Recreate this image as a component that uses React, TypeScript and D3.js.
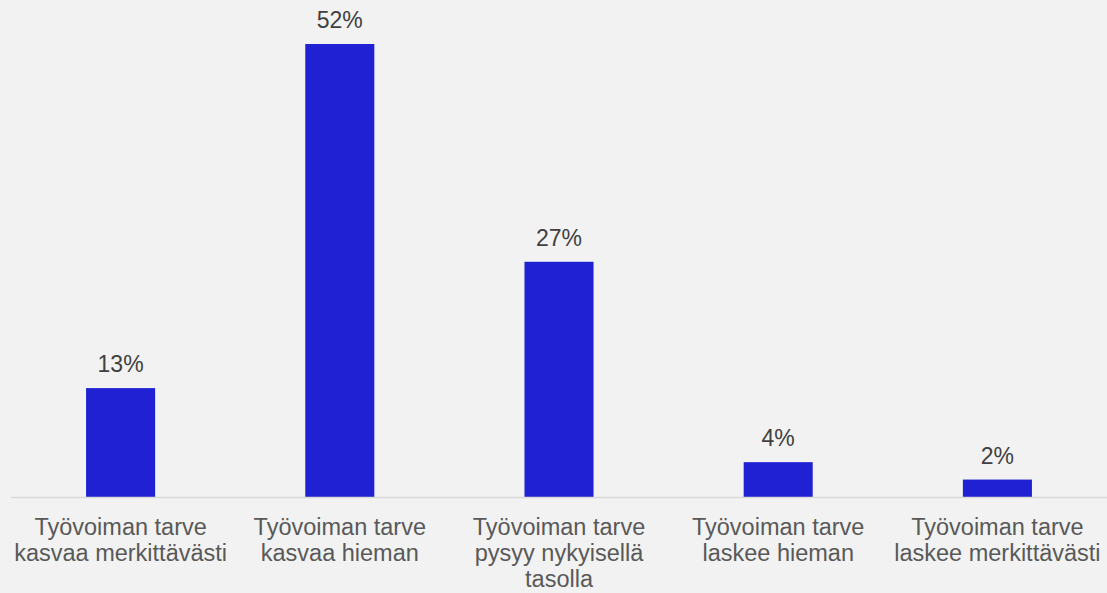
import { useEffect, useRef } from "react";
import * as d3 from "d3";

const categories = [
  "Työvoiman tarve kasvaa merkittävästi",
  "Työvoiman tarve kasvaa hieman",
  "Työvoiman tarve pysyy nykyisellä tasolla",
  "Työvoiman tarve laskee hieman",
  "Työvoiman tarve laskee merkittävästi",
];
const categoryLines = [
  ["Työvoiman tarve", "kasvaa merkittävästi"],
  ["Työvoiman tarve", "kasvaa hieman"],
  ["Työvoiman tarve", "pysyy nykyisellä", "tasolla"],
  ["Työvoiman tarve", "laskee hieman"],
  ["Työvoiman tarve", "laskee merkittävästi"],
];
const values = [12.5, 52, 27, 4, 2];
const valueLabels = ["13%", "52%", "27%", "4%", "2%"];

const W = 1107;
const H = 593;

export default function App() {
  const svgRef = useRef<SVGSVGElement | null>(null);

  useEffect(() => {
    if (!svgRef.current) return;
    const svg = d3.select(svgRef.current);
    svg.selectAll("*").remove();

    const margin = { left: 11, right: 0, top: 44, baseline: 497 };
    const font = "Arial, 'Liberation Sans', sans-serif";

    svg.append("rect").attr("width", W).attr("height", H).attr("fill", "#f2f2f2");

    const x = d3.scaleBand<string>()
      .domain(categories)
      .range([margin.left, W - margin.right])
      .paddingInner(0.685)
      .paddingOuter(0.3425);

    const y = d3.scaleLinear()
      .domain([0, d3.max(values) || 52])
      .range([margin.baseline, margin.top]);

    // bars
    svg.append("g")
      .selectAll("rect")
      .data(values)
      .enter()
      .append("rect")
      .attr("x", (_, i) => x(categories[i])!)
      .attr("y", d => y(d))
      .attr("width", x.bandwidth())
      .attr("height", d => y(0) - y(d))
      .attr("fill", "#1f21d2");

    // baseline
    svg.append("line")
      .attr("x1", margin.left)
      .attr("x2", W)
      .attr("y1", y(0) + 0.5)
      .attr("y2", y(0) + 0.5)
      .attr("stroke", "#d9d9d9")
      .attr("stroke-width", 1.5);

    // value labels
    svg.append("g")
      .selectAll("text")
      .data(values)
      .enter()
      .append("text")
      .attr("x", (_, i) => x(categories[i])! + x.bandwidth() / 2)
      .attr("y", d => y(d) - 16)
      .attr("text-anchor", "middle")
      .attr("font-family", font)
      .attr("font-size", "23px")
      .attr("fill", "#404040")
      .text((_, i) => valueLabels[i]);

    // category labels
    const cat = svg.append("g")
      .selectAll("text")
      .data(categories)
      .enter()
      .append("text")
      .attr("x", d => x(d)! + x.bandwidth() / 2)
      .attr("y", 535)
      .attr("text-anchor", "middle")
      .attr("font-family", font)
      .attr("font-size", "23.5px")
      .attr("fill", "#595959");

    cat.each(function (_, i) {
      const t = d3.select(this);
      const cx = +t.attr("x");
      categoryLines[i].forEach((line, j) => {
        t.append("tspan")
          .attr("x", cx)
          .attr("dy", j === 0 ? 0 : 26)
          .text(line);
      });
    });
  }, []);

  return (
    <>
      <style>{"body{margin:0}"}</style>
      <svg ref={svgRef} width={W} height={H} style={{ display: "block" }} />
    </>
  );
}
